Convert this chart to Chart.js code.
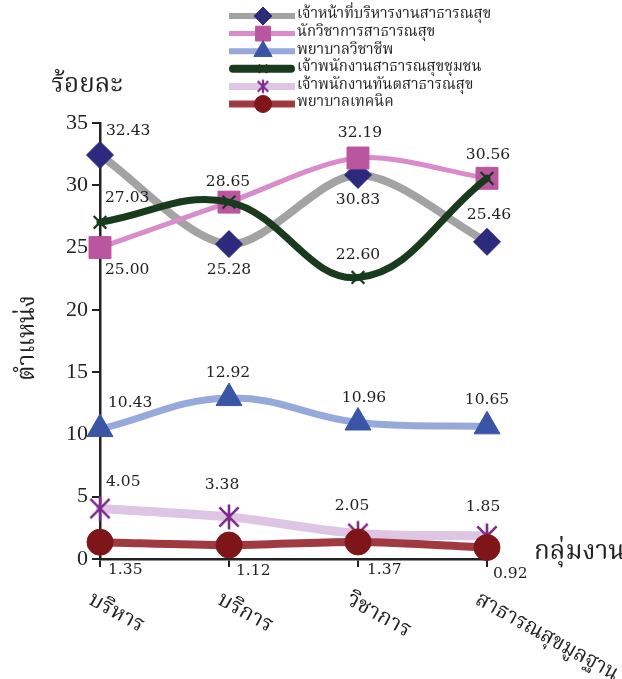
<!DOCTYPE html>
<html>
<head>
<meta charset="utf-8">
<script src="https://cdn.jsdelivr.net/npm/chart.js@4/dist/chart.umd.min.js"></script>
<style>
  html, body { margin: 0; padding: 0; background: #ffffff; }
  #wrap { width: 622px; height: 679px; position: relative; }
</style>
</head>
<body>
<div id="wrap"><canvas id="c" width="622" height="679"></canvas></div>
<script>
// Work groups along the x axis
const groups = ['บริหาร', 'บริการ', 'วิชาการ', 'สาธารณสุขมูลฐาน'];

// Position names (legend order)
const positionNames = [
  'เจ้าหน้าที่บริหารงานสาธารณสุข',
  'นักวิชาการสาธารณสุข',
  'พยาบาลวิชาชีพ',
  'เจ้าพนักงานสาธารณสุขชุมชน',
  'เจ้าพนักงานทันตสาธารณสุข',
  'พยาบาลเทคนิค'
];

// Percentage of staff per position in each work group
const healthAdminOfficer = [32.43, 25.28, 30.83, 25.46];
const publicHealthAcademic = [25.00, 28.65, 32.19, 30.56];
const professionalNurse = [10.43, 12.92, 10.96, 10.65];
const communityHealthOfficer = [27.03, 28.65, 22.60, 30.56];
const dentalHealthOfficer = [4.05, 3.38, 2.05, 1.85];
const technicalNurse = [1.35, 1.12, 1.37, 0.92];

// Y axis ticks (percent)
const yTicks = [0, 5, 10, 15, 20, 25, 30, 35];

const THAI = "'Noto Serif Thai', 'Norasi', 'Garuda', 'Loma', 'Noto Sans Thai', serif";
const NUM = "'DejaVu Serif', 'Liberation Serif', serif";
const TICK = "'Liberation Serif', 'DejaVu Serif', serif";
const INK = '#222222';

// Six-armed asterisk marker
function makeAsterisk(size, color, lw) {
  const cv = document.createElement('canvas');
  cv.width = size; cv.height = size;
  const g = cv.getContext('2d');
  const c = size / 2, r = size / 2 - lw;
  g.strokeStyle = color; g.lineWidth = lw; g.lineCap = 'butt';
  g.beginPath();
  g.moveTo(c, c - r); g.lineTo(c, c + r);
  const d = r * 0.78;
  g.moveTo(c - d, c - d); g.lineTo(c + d, c + d);
  g.moveTo(c + d, c - d); g.lineTo(c - d, c + d);
  g.stroke();
  return cv;
}
const asteriskBig = makeAsterisk(30, '#7E2B8E', 2.6);
const asteriskSmall = makeAsterisk(18, '#7E2B8E', 2.2);

// Value label placement per point: [align, dx, dy]; null = no label
const labelPlacement = [
  [['left', 6, -24], ['center', 0, 26], ['center', 0, 25], ['center', 2, -27]],
  [['left', 5, 22], ['center', -1, -20], ['center', 2, -25], ['center', 1, -23]],
  [['left', 8, -26], ['center', -1, -25], ['center', 6, -25], ['center', 0, -26]],
  [['left', 5, -24], null, ['center', 0, -22], null],
  [['left', 6, -27], ['center', -7, -32], ['center', -6, -27], ['center', -4, -29]],
  [['left', 8, 28], ['left', 7, 26], ['left', 9, 28], ['left', 6, 26]]
];

// Legend sample settings per dataset
const legendLook = [
  { lineWidth: 6, radius: 9 },
  { lineWidth: 5, radius: 10.5 },
  { lineWidth: 6, radius: 10.5 },
  { lineWidth: 8, radius: 5 },
  { lineWidth: 7, radius: 9, image: asteriskSmall },
  { lineWidth: 7, radius: 8.5 }
];

const annotate = {
  id: 'annotate',
  afterDatasetsDraw(chart) {
    const ctx = chart.ctx;
    const xs = chart.scales.x, ys = chart.scales.y;
    ctx.save();

    // value labels
    ctx.font = "15.5px " + NUM;
    ctx.fillStyle = INK;
    ctx.textBaseline = 'middle';
    chart.data.datasets.forEach((ds, di) => {
      const meta = chart.getDatasetMeta(di);
      meta.data.forEach((pt, i) => {
        const p = labelPlacement[di][i];
        if (!p) return;
        ctx.textAlign = p[0];
        ctx.fillText(ds.data[i].toFixed(2), pt.x + p[1], pt.y + p[2]);
      });
    });

    // rotated category labels (long ones are narrowed to fit the canvas)
    ctx.font = "22px " + THAI;
    ctx.textAlign = 'left';
    ctx.textBaseline = 'middle';
    groups.forEach((g, i) => {
      const x = xs.getPixelForValue(i);
      const w = ctx.measureText(g).width;
      ctx.save();
      ctx.translate(x - 11, 600);
      ctx.rotate(29 * Math.PI / 180);
      ctx.scale(Math.min(1, 160 / w), 1);
      ctx.fillText(g, 0, 0);
      ctx.restore();
    });

    // axis titles
    ctx.font = "26px " + THAI;
    ctx.textAlign = 'center';
    ctx.fillText('ร้อยละ', 87, 88);
    ctx.textAlign = 'left';
    ctx.fillText('กลุ่มงาน', 534, ys.getPixelForValue(0) - 4);
    ctx.save();
    ctx.translate(30, 338);
    ctx.rotate(-Math.PI / 2);
    ctx.textAlign = 'center';
    ctx.font = "24px " + THAI;
    ctx.fillText('ตำแหน่ง', 0, 0);
    ctx.restore();

    // legend
    ctx.font = "15px " + THAI;
    ctx.textAlign = 'left';
    ctx.textBaseline = 'middle';
    chart.data.datasets.forEach((ds, di) => {
      const y = 16 + di * 17.6;
      const look = legendLook[di];
      ctx.strokeStyle = ds.borderColor;
      ctx.lineWidth = look.lineWidth;
      ctx.lineCap = di === 3 ? 'round' : 'butt';
      ctx.beginPath();
      ctx.moveTo(229 + (di === 3 ? 4 : 0), y);
      ctx.lineTo(295 - (di === 3 ? 4 : 0), y);
      ctx.stroke();
      if (look.image) {
        ctx.drawImage(look.image, 263 - look.image.width / 2, y - look.image.height / 2);
      } else {
        ctx.fillStyle = ds.pointBackgroundColor;
        ctx.strokeStyle = ds.pointBorderColor;
        ctx.lineWidth = ds.pointBorderWidth;
        Chart.helpers.drawPoint(ctx, {
          pointStyle: ds.pointStyle, radius: look.radius, rotation: 0,
          borderWidth: ds.pointBorderWidth
        }, 263, y);
      }
      ctx.fillStyle = INK;
      ctx.fillText(positionNames[di], 297, y);
    });
    ctx.restore();
  }
};

function series(idx, values, o) {
  return Object.assign({
    label: positionNames[idx],
    data: values,
    order: 6 - idx,
    clip: false,
    fill: false,
    cubicInterpolationMode: 'default',
    borderCapStyle: 'round',
    borderJoinStyle: 'round',
    pointHoverRadius: o.pointRadius
  }, o);
}

new Chart(document.getElementById('c'), {
  type: 'line',
  data: {
    labels: groups,
    datasets: [
      series(0, healthAdminOfficer, {
        borderColor: '#A3A3A3', borderWidth: 8, tension: 0.3,
        pointStyle: 'rectRot', pointRadius: 13.5,
        pointBackgroundColor: '#2C2A7C', pointBorderColor: '#2C2A7C', pointBorderWidth: 1
      }),
      series(1, publicHealthAcademic, {
        borderColor: '#D98BCB', borderWidth: 5, tension: 0.3,
        pointStyle: 'rect', pointRadius: 15.5,
        pointBackgroundColor: '#BA559F', pointBorderColor: '#BA559F', pointBorderWidth: 1
      }),
      series(2, professionalNurse, {
        borderColor: '#97A8DA', borderWidth: 7, tension: 0.4,
        pointStyle: 'triangle', pointRadius: 15,
        pointBackgroundColor: '#3A55A6', pointBorderColor: '#3A55A6', pointBorderWidth: 1
      }),
      series(3, communityHealthOfficer, {
        borderColor: '#1A3A1E', borderWidth: 7, tension: 0.4,
        pointStyle: 'crossRot', pointRadius: 9,
        pointBackgroundColor: '#1A3A1E', pointBorderColor: '#1A3A1E', pointBorderWidth: 2.2
      }),
      series(4, dentalHealthOfficer, {
        borderColor: '#DEC5E4', borderWidth: 9, tension: 0.3,
        pointStyle: asteriskBig, pointRadius: 15,
        pointBackgroundColor: '#7E2B8E', pointBorderColor: '#7E2B8E', pointBorderWidth: 2
      }),
      series(5, technicalNurse, {
        borderColor: '#A03A40', borderWidth: 8, tension: 0.3,
        pointStyle: 'circle', pointRadius: 13,
        pointBackgroundColor: '#7E1619', pointBorderColor: '#7E1619', pointBorderWidth: 1
      })
    ]
  },
  options: {
    responsive: false,
    animation: false,
    events: [],
    layout: { autoPadding: false, padding: { left: 0, top: 123, right: 135, bottom: 0 } },
    plugins: { legend: { display: false }, tooltip: { enabled: false } },
    scales: {
      x: {
        type: 'category',
        offset: false,
        afterFit(s) { s.height = 120; },
        ticks: { display: false },
        grid: { drawOnChartArea: false, drawTicks: true, tickLength: 8, color: INK, lineWidth: 2 },
        border: { display: true, color: INK, width: 2.5 }
      },
      y: {
        min: 0, max: 35,
        afterFit(s) { s.width = 100; },
        afterBuildTicks(s) { s.ticks = yTicks.map(v => ({ value: v })); },
        ticks: { font: { family: TICK, size: 22 }, color: INK, padding: 4 },
        grid: { drawOnChartArea: false, drawTicks: true, tickLength: 8, color: INK, lineWidth: 2 },
        border: { display: true, color: INK, width: 2.5 }
      }
    }
  },
  plugins: [annotate]
});
</script>
</body>
</html>
